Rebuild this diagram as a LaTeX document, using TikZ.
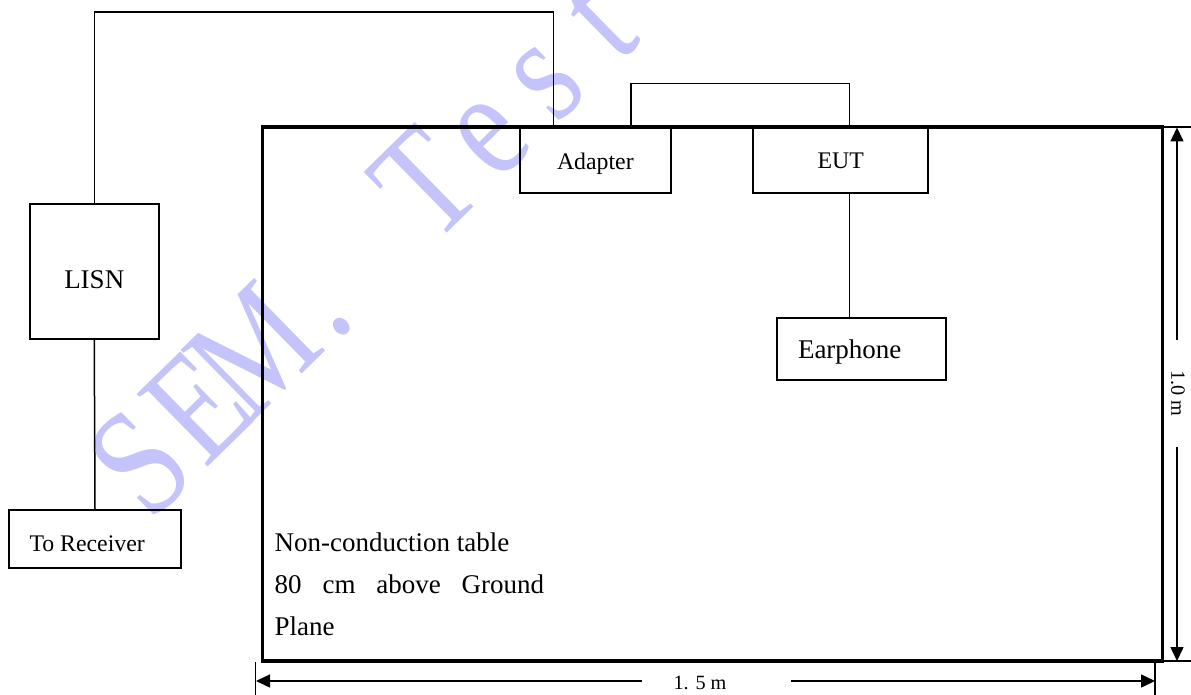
\documentclass[tikz,border=0pt]{standalone}
\usepackage{fontspec}
\usepackage{graphicx}
\setmainfont{Liberation Serif}
\usetikzlibrary{arrows.meta,calc}
\definecolor{wmcol}{RGB}{196,196,250}
\newcommand\wmch[1]{\makebox[79.7pt]{\scalebox{0.8}[1]{#1}}}
\begin{document}
\begin{tikzpicture}[x=1pt,y=-1pt,
  box/.style={draw, line width=2pt, inner xsep=0pt, inner ysep=0pt, minimum height=0pt},
  wire/.style={line width=1.5pt},
  dimarrow/.style={line width=1.5pt, -{Triangle[length=14pt,width=13pt]}},
  ext/.style={line width=1.2pt},
  txt/.style={font=\fontsize{27}{32}\selectfont},
  stxt/.style={font=\fontsize{23.8}{28}\selectfont},
  dtxt/.style={font=\fontsize{20.25}{24}\selectfont},
]
\useasboundingbox (0,0) rectangle (1191,695);
% watermark
\node[text=wmcol, font=\fontsize{155}{165}\selectfont, rotate=44.4, inner sep=0pt] (wmark) at (368,240) {\wmch{S}\wmch{E}\wmch{M}\wmch{.}\wmch{\ }\wmch{T}\wmch{e}\wmch{s}\wmch{t}};
% table
\node[draw, line width=3.3pt, minimum width=900pt, minimum height=534pt, inner sep=0pt] (table) at (712.5,394) {};
% boxes
\node[box, txt, minimum width=128.5pt, text height=84pt, text depth=51pt] (lisn) at (94.25,271.5) {LISN};
\node[box, stxt, inner xsep=20.5pt, text height=41pt, text depth=17pt] (rx) at (95,539) {\makebox[131pt][l]{To Receiver}};
\node[box, stxt, minimum width=150.7pt, text height=41.5pt, text depth=22.7pt] (adapter) at (595.35,160.6) {Adapter};
\node[box, stxt, minimum width=175pt, text height=40.5pt, text depth=23.7pt] (eut) at (840.8,160.6) {EUT};
\node[box, txt, inner xsep=21pt, text height=40.6pt, text depth=21.7pt] (ear) at (861.5,348.85) {\makebox[127pt][l]{Earphone}};
% wires
\coordinate (topy) at (0,12);
\draw[wire] (lisn.north) -- (lisn.north |- topy) -| ([xshift=-41.7pt]adapter.north);
\draw[wire] ([xshift=35.7pt]adapter.north) -- ++(0,-44.2) -| ([xshift=8.5pt]eut.north);
\coordinate (eutw) at ([xshift=8.5pt]eut.south);
\draw[wire] (eutw) -- (eutw |- ear.north);
\draw[wire] (lisn.south) -- (rx.north);
% table text
\node[txt, anchor=base west, inner sep=0pt] (tabtxt) at (274.5,551) {\vtop{\baselineskip=42pt \hbox{Non-conduction table}\hbox to 269.5pt{80\hfill cm\hfill above\hfill Ground}\hbox{Plane}}};
% right dimension
\coordinate (rt) at (1177,127.5);
\coordinate (rb) at (1177,661);
\coordinate (rt0) at (1177,340);
\coordinate (rb0) at (1177,447);
\draw[ext] (1162.5,127) -- (1191,127);
\draw[ext] (1162.5,661) -- (1191,661);
\draw[dimarrow] (rt0) -- (rt);
\draw[dimarrow] (rb0) -- (rb);
\node[dtxt, rotate=-90, inner sep=0pt] (dimh) at (1178,393.5) {1.0 m};
% bottom dimension
\coordinate (bl) at (256,681);
\coordinate (br) at (1155,681);
\coordinate (bl0) at (642,681);
\coordinate (br0) at (791,681);
\draw[ext] (255.5,662) -- (255.5,695);
\draw[ext] (1155,663) -- (1155,695);
\draw[dimarrow] (bl0) -- (bl);
\draw[dimarrow] (br0) -- (br);
\node[dtxt, anchor=base, inner sep=0pt] (dimw) at (700,689) {1. 5 m};
\end{tikzpicture}
\end{document}
